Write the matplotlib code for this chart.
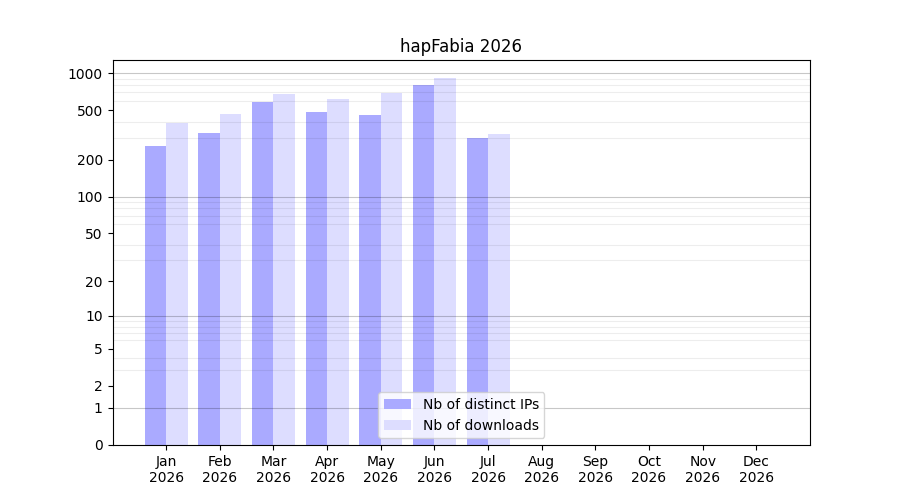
import numpy as np
import matplotlib
matplotlib.use("Agg")
import matplotlib.pyplot as plt

months = ["Jan", "Feb", "Mar", "Apr", "May", "Jun", "Jul", "Aug", "Sep", "Oct", "Nov", "Dec"]
year = "2026"
ips = [257, 328, 583, 484, 458, 800, 298]
downloads = [394, 467, 677, 616, 689, 911, 321]
ytick_values = [0, 1, 2, 5, 10, 20, 50, 100, 200, 500, 1000]
decades = [1, 10, 100, 1000]

def fwd(v):
    return np.log10(1 + np.clip(v, 0, None))

def inv(v):
    return 10 ** v - 1

fig, ax = plt.subplots(figsize=(9, 5), dpi=100)
ax.set_yscale("function", functions=(fwd, inv))

x = np.arange(len(ips))
w = 0.4
ax.bar(x - w / 2, ips, width=w, color="#aaaaff", label="Nb of distinct IPs", zorder=1)
ax.bar(x + w / 2, downloads, width=w, color="#ddddff", label="Nb of downloads", zorder=1)

ax.set_xticks(np.arange(len(months)))
ax.set_xticklabels([f"{m}\n{year}" for m in months])

ax.set_yticks(ytick_values)
ax.set_yticklabels([str(v) for v in ytick_values])
minor = [m * 10 ** k for k in range(0, 4) for m in range(2, 10)]
ax.set_yticks(minor, minor=True)
ax.tick_params(axis="y", which="minor", length=0)
ax.set_axisbelow(False)
ax.grid(True, which="minor", axis="y", color="black", alpha=0.07, linewidth=0.8, zorder=2)
for d in decades:
    ax.axhline(d, color="black", alpha=0.22, linewidth=0.8, zorder=2)

ax.set_xlim(-1, len(months))
ax.set_ylim(0, max(downloads) * 1.4)

ax.set_title("hapFabia 2026")
leg = ax.legend(loc="lower center")
leg.set_zorder(5)

fig.savefig("out.png", dpi=100)
